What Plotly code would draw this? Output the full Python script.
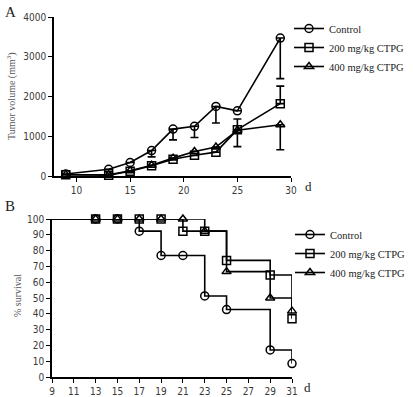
import plotly.graph_objects as go

# ---------------- Data ----------------
# Panel A: tumor volume (mm^3)
days_a = [9, 13, 15, 17, 19, 21, 23, 25, 29]
ctrl_vol = [50, 170, 340, 640, 1180, 1250, 1750, 1640, 3470]
ctrl_err_lo = [0, 0, 0, 160, 270, 280, 415, 0, 1020]
ctrl_err_hi = [0, 0, 0, 0, 0, 0, 0, 0, 0]
c200_vol = [30, 20, 120, 260, 420, 520, 600, 1165, 1820]
c200_err_hi = [0, 0, 0, 0, 0, 0, 0, 270, 440]
c200_err_lo = [0, 0, 0, 0, 0, 0, 0, 0, 0]
c400_vol = [30, 30, 130, 270, 450, 615, 727, 1150, 1290]
c400_err_lo = [0, 0, 0, 0, 0, 0, 0, 410, 630]
c400_err_hi = [0, 0, 0, 0, 0, 0, 0, 0, 0]

# Panel B: % survival (Kaplan-Meier)
ctrl_days = [13, 15, 17, 19, 21, 23, 25, 29, 31]
ctrl_surv = [100, 100, 92.3, 76.9, 76.9, 51.3, 42.7, 17.1, 8.5]
c200_days = [13, 15, 17, 19, 21, 23, 25, 29, 31]
c200_surv = [100, 100, 100, 100, 92.3, 92.3, 73.8, 64.6, 36.9]
c400_days = [13, 15, 17, 19, 21, 23, 25, 29, 31]
c400_surv = [100, 100, 100, 100, 100, 92.3, 66.7, 50.0, 41.7]
start_day = 9
start_surv = 100

names = ["Control", "200 mg/kg CTPG", "400 mg/kg CTPG"]
symbols = ["circle-open", "square-open", "triangle-up-open"]

xticks_a = [10, 15, 20, 25, 30]
yticks_a = [0, 1000, 2000, 3000, 4000]
xticks_b = list(range(9, 32, 2))
yticks_b = list(range(0, 101, 10))

# ---------------- Figure ----------------
W, H = 414, 397
SERIF = "Liberation Serif, Times New Roman, serif"
SANS = "Liberation Sans Narrow, DejaVu Sans Condensed, Liberation Sans, Arial, sans-serif"
TICKC = "#3a3a3a"

fig = go.Figure()

def px_x(p):
    return p / W

def px_y(p):
    return 1 - p / H

mk = dict(size=8, color="black", line=dict(width=1.5, color="black"))

# Panel A traces
vols = [ctrl_vol, c200_vol, c400_vol]
errs_lo = [ctrl_err_lo, c200_err_lo, c400_err_lo]
errs_hi = [ctrl_err_hi, c200_err_hi, c400_err_hi]
for i in [2, 1, 0]:
    fig.add_trace(go.Scatter(
        x=days_a, y=vols[i], mode="lines+markers", name=names[i],
        line=dict(color="black", width=1.6),
        marker=dict(symbol=symbols[i], **mk),
        error_y=dict(type="data", symmetric=False, array=errs_hi[i],
                     arrayminus=errs_lo[i], color="black", thickness=1.6, width=4),
        xaxis="x", yaxis="y", showlegend=False, cliponaxis=False,
    ))
for i in range(3):
    fig.add_trace(go.Scatter(
        x=[None], y=[None], mode="lines+markers", name=names[i],
        line=dict(color="black", width=1.6),
        marker=dict(symbol=symbols[i], **mk),
        xaxis="x", yaxis="y", legend="legend", showlegend=True,
    ))

# Panel B traces
sdays = [ctrl_days, c200_days, c400_days]
survs = [ctrl_surv, c200_surv, c400_surv]
for i in [0, 2, 1]:
    fig.add_trace(go.Scatter(
        x=[start_day] + sdays[i], y=[start_surv] + survs[i], mode="lines",
        line=dict(color="black", width=1.6, shape="hv"),
        xaxis="x2", yaxis="y2", showlegend=False, cliponaxis=False, hoverinfo="skip",
    ))
for i in [0, 2, 1]:
    fig.add_trace(go.Scatter(
        x=sdays[i], y=survs[i], mode="markers", name=names[i],
        marker=dict(symbol=symbols[i], **mk),
        xaxis="x2", yaxis="y2", showlegend=False, cliponaxis=False,
    ))
for i in range(3):
    fig.add_trace(go.Scatter(
        x=[None], y=[None], mode="lines+markers", name=names[i],
        line=dict(color="black", width=1.6),
        marker=dict(symbol=symbols[i], **mk),
        xaxis="x2", yaxis="y2", legend="legend2", showlegend=True,
    ))

axis_common = dict(
    showgrid=False, zeroline=False, showline=True, linecolor="black", linewidth=1.6,
    ticks="outside", ticklen=4, tickwidth=1.4, tickcolor="black", automargin=False,
    tickfont=dict(family=SANS, size=10, color=TICKC), fixedrange=True,
)

legend_common = dict(
    font=dict(family=SERIF, size=10.5, color="#222222"),
    bgcolor="rgba(0,0,0,0)", borderwidth=0, itemwidth=30,
    tracegroupgap=0, xanchor="left", yanchor="top", itemclick=False,
)

fig.update_layout(
    width=W, height=H, margin=dict(l=0, r=0, t=0, b=0, autoexpand=False),
    paper_bgcolor="white", plot_bgcolor="white",
    xaxis=dict(domain=[px_x(54), px_x(291)], range=[7.9, 30], tickvals=xticks_a,
               anchor="y", **axis_common),
    yaxis=dict(domain=[px_y(176), px_y(17)], range=[0, 4000], tickvals=yticks_a,
               anchor="x", **axis_common),
    xaxis2=dict(domain=[px_x(52), px_x(292)], range=[9, 31], tickvals=xticks_b,
                anchor="y2", **axis_common),
    yaxis2=dict(domain=[px_y(377), px_y(219)], range=[0, 100], tickvals=yticks_b,
                anchor="x2", **axis_common),
    legend=dict(x=px_x(289), y=px_y(14), **legend_common),
    legend2=dict(x=px_x(290), y=px_y(220), **legend_common),
    showlegend=True,
)

ann = [
    dict(text="A", x=px_x(3), y=px_y(12), xanchor="left", yanchor="middle",
         font=dict(family=SERIF, size=15, color="#222")),
    dict(text="B", x=px_x(3), y=px_y(206), xanchor="left", yanchor="middle",
         font=dict(family=SERIF, size=15, color="#222")),
    dict(text="d", x=px_x(308), y=px_y(186), xanchor="center", yanchor="middle",
         font=dict(family=SERIF, size=13, color="#222")),
    dict(text="d", x=px_x(307), y=px_y(387), xanchor="center", yanchor="middle",
         font=dict(family=SERIF, size=13, color="#222")),
    dict(text="Tumor volume (mm<sup>3</sup>)", x=px_x(11), y=px_y(96), textangle=-90,
         xanchor="center", yanchor="middle",
         font=dict(family=SERIF, size=10, color="#555")),
    dict(text="% survival", x=px_x(17), y=px_y(296), textangle=-90,
         xanchor="center", yanchor="middle",
         font=dict(family=SERIF, size=10, color="#555")),
]
for a in ann:
    a.update(xref="paper", yref="paper", showarrow=False)
fig.update_layout(annotations=ann)

fig.write_html("out.html", config={"displayModeBar": False},
               post_script="document.body.style.margin='0';document.body.style.overflow='hidden';")
